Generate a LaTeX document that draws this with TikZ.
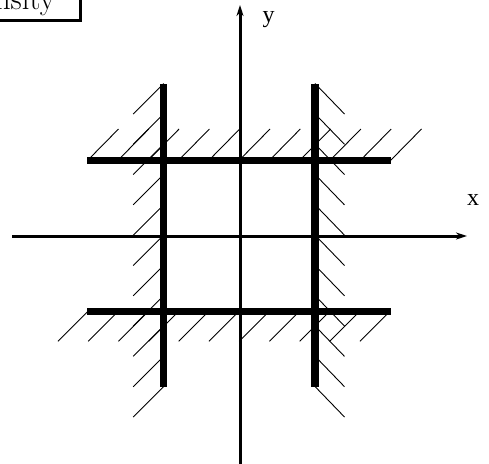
\documentclass[tikz,border=0pt]{standalone}
\usepackage{fontspec}
\newfontfamily\timesf{Liberation Serif}
\usetikzlibrary{arrows.meta}
\tikzset{
  axis/.style={line width=3pt,-{Stealth[length=11pt,width=7pt]}},
  wall/.style={line width=7.5pt,line cap=butt},
  hatch/.style={line width=0.9pt},
  lab/.style={font=\timesf\fontsize{24}{24}\selectfont,inner sep=0pt},
}
\begin{document}
\begin{tikzpicture}[x=1pt,y=-1pt]
\useasboundingbox (0,0) rectangle (489,463);
\clip (0,0) rectangle (489,463);
% title box (cropped)
\node[anchor=base east,inner sep=0pt,font=\fontsize{31}{31}\selectfont] (title) at (55,9.3) {Density};
\draw[line width=2.5pt] (-80,-40) rectangle (80.3,20.3);
% coordinates
\coordinate (xs) at (12,236);
\coordinate (xe) at (467,236);
\coordinate (ys) at (240,470);
\coordinate (ye) at (240,5);
\coordinate (lt) at (163.7,84);
\coordinate (lb) at (163.7,386.7);
\coordinate (rt) at (315,84);
\coordinate (rb) at (315,386.7);
\coordinate (tl) at (87,160.5);
\coordinate (tr) at (391,160.5);
\coordinate (bl) at (87,311.3);
\coordinate (br) at (391,311.3);
% hatching
\foreach \k in {0,...,10}{
  \draw[hatch] (87.5+30.3*\k,160.5) -- ++(31,-31.5);
  \draw[hatch] (88+30.2*\k,311.3) -- ++(-30,30);
  \draw[hatch] (163.7,83.5+30.3*\k) -- ++(-30.5,30.5);
  \draw[hatch] (315,83.5+30.3*\k) -- ++(29.5,30.5);
}
% axes
\draw[axis] (xs) -- (xe);
\draw[axis] (ys) -- (ye);
\node[lab] (xl) at (473,199.6) {x};
\node[lab] (yl) at (268.5,20) {y};
% thick lines
\draw[wall] (lt) -- (lb);
\draw[wall] (rt) -- (rb);
\draw[wall] (tl) -- (tr);
\draw[wall] (bl) -- (br);
\end{tikzpicture}
\end{document}
